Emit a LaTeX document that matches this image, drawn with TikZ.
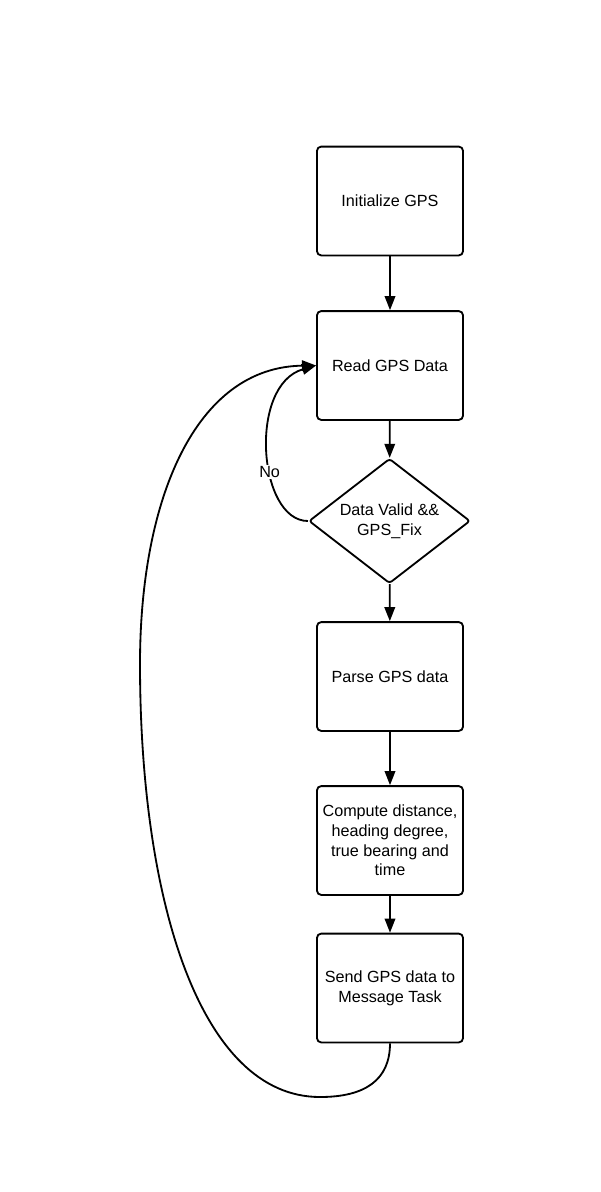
\documentclass[tikz,border=0pt]{standalone}
\usepackage{fontspec}
\setmainfont{Liberation Sans}
\usetikzlibrary{shapes.geometric,arrows.meta}
\tikzset{
  stepbox/.style={draw,rounded corners=3pt,line width=1.3pt,minimum width=3.65cm,
    minimum height=2.72cm,align=center,inner sep=2pt,font=\fontsize{11.5}{14}\selectfont},
  testbox/.style={draw,diamond,rounded corners=2pt,line width=1.3pt,shape aspect=1.29,
    minimum width=4.03cm,minimum height=3.12cm,inner sep=0pt,align=center,
    font=\fontsize{11.5}{14}\selectfont},
  flow/.style={line width=1.3pt,-{Triangle[length=10pt,width=7.5pt]}}
}
\begin{document}
\begin{tikzpicture}[x=0.025cm,y=-0.025cm]
  \useasboundingbox (0,0) rectangle (600,1192);
  \draw
    (390,201) node[stepbox] (init){Initialize GPS}
    (390,365.5) node[stepbox] (read){Read GPS Data}
    (389.5,521) node[testbox] (valid){Data Valid \&\&\\GPS\_Fix}
    (390,676.5) node[stepbox] (parse){Parse GPS data}
    (390,840.5) node[stepbox] (comp){Compute distance,\\heading degree,\\true bearing and\\time}
    (390,988) node[stepbox] (send){Send GPS data to\\Message Task};
  \begin{scope}[flow]
    \draw (init) to (read);
    \draw (read) to (valid);
    \draw (valid) to (parse);
    \draw (parse) to (comp);
    \draw (comp) to (send);
    \draw (valid.west) .. controls (258,521) and (248,385) .. node[pos=0.4,fill=white,inner sep=1pt,
      font=\fontsize{11.5}{14}\selectfont]{No} (read.west);
    \draw (send.south) .. controls (390,1080) and (365,1097) .. (320,1097)
      .. controls (200,1097) and (140,900) .. (140,664)
      .. controls (140,500) and (195,367) .. (read.west);
  \end{scope}
\end{tikzpicture}
\end{document}
